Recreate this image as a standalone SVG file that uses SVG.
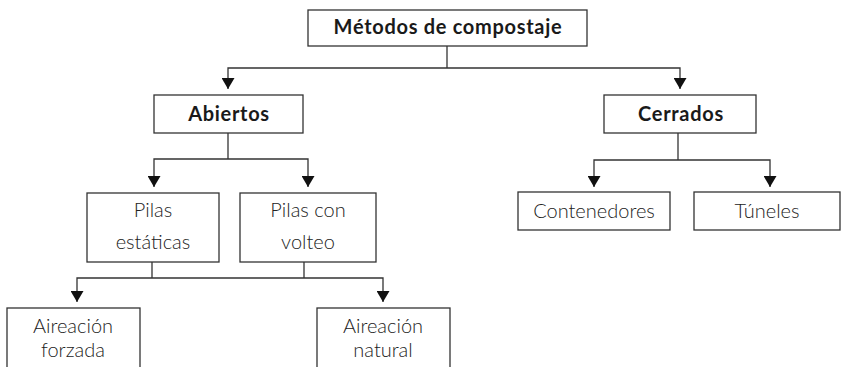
<svg xmlns="http://www.w3.org/2000/svg" width="841" height="367" viewBox="0 0 841 367">
<defs>
<style>
.box{fill:#fff;stroke:#333;stroke-width:1.3}
.ln{fill:none;stroke:#333;stroke-width:1.3}
.hd{font-family:Lato,"Open Sans",sans-serif;font-weight:bold;font-size:20px;letter-spacing:0.7px;fill:#1a1a1a;text-anchor:middle}
.tx{font-family:Lato,"Open Sans",sans-serif;font-weight:300;font-size:20px;fill:#222;text-anchor:middle}
</style>
<marker id="ah" markerWidth="11" markerHeight="13" refX="11" refY="6.5" orient="auto" markerUnits="userSpaceOnUse" viewBox="0 0 11 13">
<path d="M0,0 L11,6.5 L0,13 Z" fill="#111"/>
</marker>
</defs>
<rect width="841" height="367" fill="#fff"/>
<g id="connectors">
<path class="ln" d="M447,46 V68"/>
<path class="ln" d="M228,88 V68 H680 V88"/>
<path class="ln" d="M228,78 V89" marker-end="url(#ah)"/>
<path class="ln" d="M680,78 V89" marker-end="url(#ah)"/>
<path class="ln" d="M228,133 V159"/>
<path class="ln" d="M154,186 V159 H308 V186"/>
<path class="ln" d="M154,176 V187" marker-end="url(#ah)"/>
<path class="ln" d="M308,176 V187" marker-end="url(#ah)"/>
<path class="ln" d="M678,133 V160"/>
<path class="ln" d="M594,186 V160 H770 V186"/>
<path class="ln" d="M594,176 V187" marker-end="url(#ah)"/>
<path class="ln" d="M770,176 V187" marker-end="url(#ah)"/>
<path class="ln" d="M152,262 V278"/>
<path class="ln" d="M304,262 V278"/>
<path class="ln" d="M77,301 V278 H383 V301"/>
<path class="ln" d="M77,291 V302" marker-end="url(#ah)"/>
<path class="ln" d="M383,291 V302" marker-end="url(#ah)"/>
</g>
<g id="metodos">
<rect class="box" x="308" y="10" width="279" height="36"/>
<text class="hd" x="448" y="34">Métodos de compostaje</text>
</g>
<g id="abiertos">
<rect class="box" x="154" y="95" width="149" height="38"/>
<text class="hd" x="229" y="121">Abiertos</text>
</g>
<g id="cerrados">
<rect class="box" x="604" y="95" width="152" height="38"/>
<text class="hd" x="681" y="121">Cerrados</text>
</g>
<g id="pilas-estaticas">
<rect class="box" x="87" y="193" width="132" height="69"/>
<text class="tx" x="153" y="217">Pilas</text>
<text class="tx" x="153" y="249">estáticas</text>
</g>
<g id="pilas-volteo">
<rect class="box" x="240" y="193" width="136" height="69"/>
<text class="tx" x="308" y="217">Pilas con</text>
<text class="tx" x="308" y="249">volteo</text>
</g>
<g id="contenedores">
<rect class="box" x="518" y="192" width="152" height="38"/>
<text class="tx" x="594" y="218">Contenedores</text>
</g>
<g id="tuneles">
<rect class="box" x="694" y="192" width="146" height="38"/>
<text class="tx" x="767" y="218">Túneles</text>
</g>
<g id="aireacion-forzada">
<rect class="box" x="7" y="308" width="133" height="70"/>
<text class="tx" x="73" y="333">Aireación</text>
<text class="tx" x="73" y="357">forzada</text>
</g>
<g id="aireacion-natural">
<rect class="box" x="317" y="308" width="133" height="70"/>
<text class="tx" x="383" y="333">Aireación</text>
<text class="tx" x="383" y="357">natural</text>
</g>
</svg>
